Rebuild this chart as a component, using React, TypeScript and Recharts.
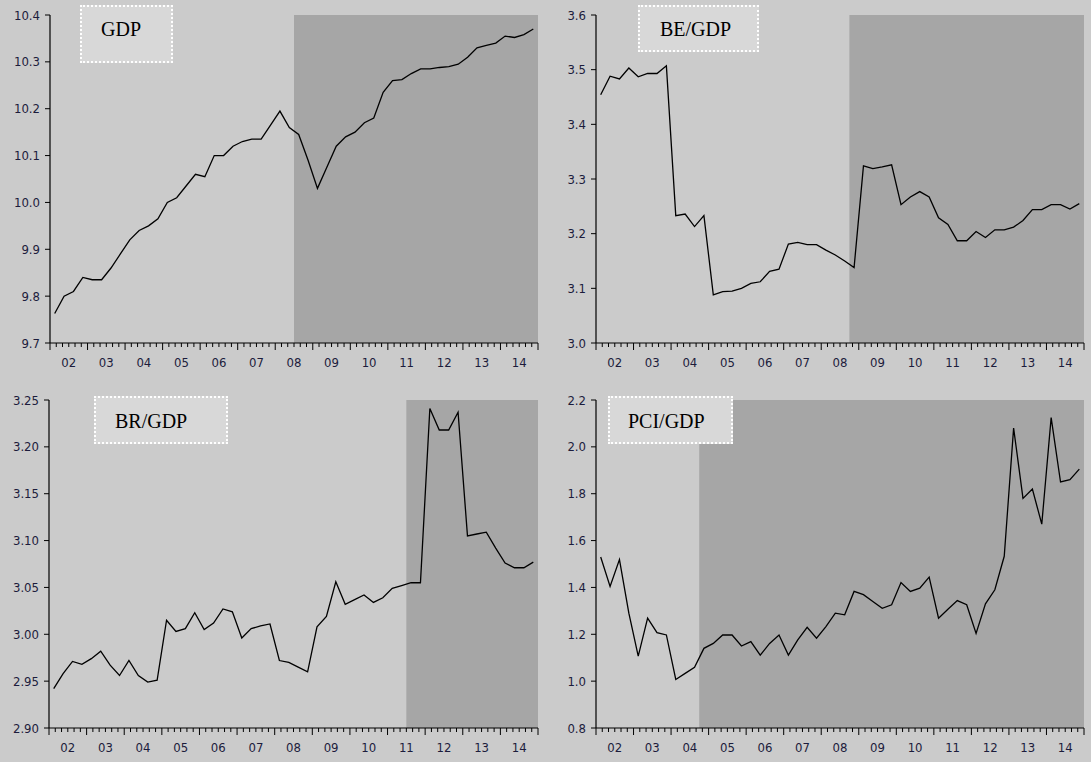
import React from "react";
import { LineChart, Line, XAxis, YAxis, ReferenceArea } from "recharts";

// quarterly observations 2002Q1 .. 2014Q4
const years = ["02", "03", "04", "05", "06", "07", "08", "09", "10", "11", "12", "13", "14"];

const gdp = [
  9.763, 9.8, 9.81, 9.84, 9.835, 9.835, 9.86, 9.89, 9.92, 9.94, 9.95, 9.965,
  10.0, 10.01, 10.035, 10.06, 10.055, 10.1, 10.1, 10.12, 10.13, 10.135, 10.135, 10.165,
  10.195, 10.16, 10.145, 10.09, 10.03, 10.075, 10.12, 10.14, 10.15, 10.17, 10.18, 10.235,
  10.26, 10.262, 10.275, 10.285, 10.285, 10.288, 10.29, 10.295, 10.31, 10.33, 10.335, 10.34,
  10.355, 10.352, 10.358, 10.37,
];

const beGdp = [
  3.454, 3.488, 3.483, 3.503, 3.487, 3.493, 3.493, 3.507, 3.233, 3.236, 3.213, 3.233,
  3.088, 3.094, 3.095, 3.1, 3.109, 3.112, 3.131, 3.135, 3.181, 3.184, 3.18, 3.18,
  3.17, 3.161, 3.15, 3.138, 3.324, 3.319, 3.322, 3.326, 3.253, 3.267, 3.277, 3.267,
  3.229, 3.217, 3.187, 3.187, 3.204, 3.193, 3.207, 3.207, 3.212, 3.224, 3.244, 3.244,
  3.253, 3.253, 3.245, 3.255,
];

const brGdp = [
  2.942, 2.958, 2.971, 2.968, 2.974, 2.982, 2.967, 2.956, 2.972, 2.956, 2.949, 2.951,
  3.015, 3.003, 3.006, 3.023, 3.005, 3.012, 3.027, 3.024, 2.996, 3.006, 3.009, 3.011,
  2.972, 2.97, 2.965, 2.96, 3.008, 3.019, 3.056, 3.032, 3.037, 3.042, 3.034, 3.039,
  3.049, 3.052, 3.055, 3.055, 3.241, 3.218, 3.218, 3.237, 3.105, 3.107, 3.109, 3.092,
  3.076, 3.071, 3.071, 3.077,
];

const pciGdp = [
  1.53, 1.404, 1.519, 1.29, 1.107, 1.269, 1.207, 1.197, 1.007, 1.033, 1.059, 1.14,
  1.161, 1.197, 1.197, 1.15, 1.169, 1.111, 1.161, 1.197, 1.111, 1.176, 1.23, 1.183,
  1.233, 1.29, 1.283, 1.383, 1.369, 1.34, 1.311, 1.326, 1.421, 1.383, 1.397, 1.444,
  1.269, 1.307, 1.344, 1.326, 1.204, 1.33, 1.39, 1.533, 2.08, 1.78, 1.82, 1.67,
  2.125, 1.85, 1.86, 1.905,
];

const gdpTicks = [9.7, 9.8, 9.9, 10.0, 10.1, 10.2, 10.3, 10.4];
const beTicks = [3.0, 3.1, 3.2, 3.3, 3.4, 3.5, 3.6];
const brTicks = [2.9, 2.95, 3.0, 3.05, 3.1, 3.15, 3.2, 3.25];
const pciTicks = [0.8, 1.0, 1.2, 1.4, 1.6, 1.8, 2.0, 2.2];

const BG = "#cbcbcb";
const SHADE = "#a6a6a6";
const LABEL = "#1c1c3c";
const TICK_FONT = "'DejaVu Sans Condensed', 'DejaVu Sans', sans-serif";

const PER_YEAR = 6;
const xTicks = Array.from({ length: years.length * PER_YEAR + 1 }, (_, k) => -0.5 + (k * 4) / PER_YEAR);

const XTick = (props: any) => {
  const { x, y, index } = props;
  const major = index % PER_YEAR === 0;
  const label = index % PER_YEAR === PER_YEAR / 2 ? years[Math.floor(index / PER_YEAR)] : null;
  return (
    <g>
      <line x1={x} x2={x} y1={y} y2={y + (major ? 7 : 4)} stroke="#000" strokeWidth={1} />
      {label && (
        <text x={x} y={y + 20} textAnchor="middle" dominantBaseline="middle" fill={LABEL} fontSize={13} fontFamily={TICK_FONT}>
          {label}
        </text>
      )}
    </g>
  );
};

interface PanelProps {
  series: number[];
  domain: [number, number];
  ticks: number[];
  digits: number;
  shadeFrom: number;
  left: number;
  top: number;
  width: number;
  height: number;
  marginTop: number;
  marginBottom: number;
  axisWidth: number;
}

const Panel = ({ series, domain, ticks, digits, shadeFrom, left, top, width, height, marginTop, marginBottom, axisWidth }: PanelProps) => {
  const data = series.map((v, i) => ({ q: i, v }));
  return (
    <div style={{ position: "absolute", left, top }}>
      <LineChart width={width} height={height} data={data} margin={{ top: marginTop, right: 7, left: 0, bottom: marginBottom }}>
        <ReferenceArea x1={shadeFrom} x2={51.5} y1={domain[0]} y2={domain[1]} fill={SHADE} fillOpacity={1} stroke="none" />
        <XAxis
          type="number"
          dataKey="q"
          domain={[-0.5, 51.5]}
          ticks={xTicks}
          interval={0}
          tickSize={0}
          tickMargin={0}
          tickLine={false}
          tick={<XTick />}
          axisLine={{ stroke: "#000", strokeWidth: 1.2 }}
          height={30}
          allowDataOverflow
        />
        <YAxis
          type="number"
          domain={domain}
          ticks={ticks}
          interval={0}
          width={axisWidth}
          tickSize={5}
          tickMargin={5}
          tickLine={{ stroke: "#000" }}
          axisLine={{ stroke: "#000", strokeWidth: 1.2 }}
          tick={{ fill: LABEL, fontSize: 13, fontFamily: TICK_FONT }}
          tickFormatter={(v: number) => v.toFixed(digits)}
          allowDataOverflow
        />
        <Line type="linear" dataKey="v" stroke="#000" strokeWidth={1.3} dot={false} isAnimationActive={false} />
      </LineChart>
    </div>
  );
};

const TitleBox = ({ text, left, top, width, height, textLeft, baseline }: any) => (
  <>
    <div
      style={{
        position: "absolute",
        left,
        top,
        width: width - 4,
        height: height - 4,
        background: "#d8d8d8",
        border: "2px dotted #ffffff",
      }}
    />
    <div
      style={{
        position: "absolute",
        left: textLeft,
        top: baseline - 17,
        fontFamily: "'Liberation Serif', 'Times New Roman', serif",
        fontSize: 20,
        lineHeight: "20px",
        color: "#000",
        whiteSpace: "nowrap",
      }}
    >
      {text}
    </div>
  </>
);

export default function App() {
  return (
    <div style={{ position: "absolute", left: 0, top: 0, width: 1091, height: 762, background: BG, overflow: "hidden" }}>
      <Panel series={gdp} domain={[9.7, 10.4]} ticks={gdpTicks} digits={1} shadeFrom={25.5}
        left={0} top={0} width={545} height={380} marginTop={15} marginBottom={7} axisWidth={50} />
      <Panel series={beGdp} domain={[3.0, 3.6]} ticks={beTicks} digits={1} shadeFrom={26.5}
        left={545} top={0} width={546} height={380} marginTop={15} marginBottom={7} axisWidth={51} />
      <Panel series={brGdp} domain={[2.9, 3.25]} ticks={brTicks} digits={2} shadeFrom={37.5}
        left={0} top={380} width={545} height={382} marginTop={20} marginBottom={4} axisWidth={49} />
      <Panel series={pciGdp} domain={[0.8, 2.2]} ticks={pciTicks} digits={1} shadeFrom={10.5}
        left={545} top={380} width={546} height={382} marginTop={20} marginBottom={4} axisWidth={51} />

      <TitleBox text="GDP" left={80} top={5} width={93} height={58} textLeft={101} baseline={36} />
      <TitleBox text="BE/GDP" left={638} top={5} width={121} height={47} textLeft={660} baseline={36} />
      <TitleBox text="BR/GDP" left={94} top={396} width={134} height={48} textLeft={115} baseline={428} />
      <TitleBox text="PCI/GDP" left={608} top={396} width={125} height={48} textLeft={628} baseline={428} />
    </div>
  );
}
